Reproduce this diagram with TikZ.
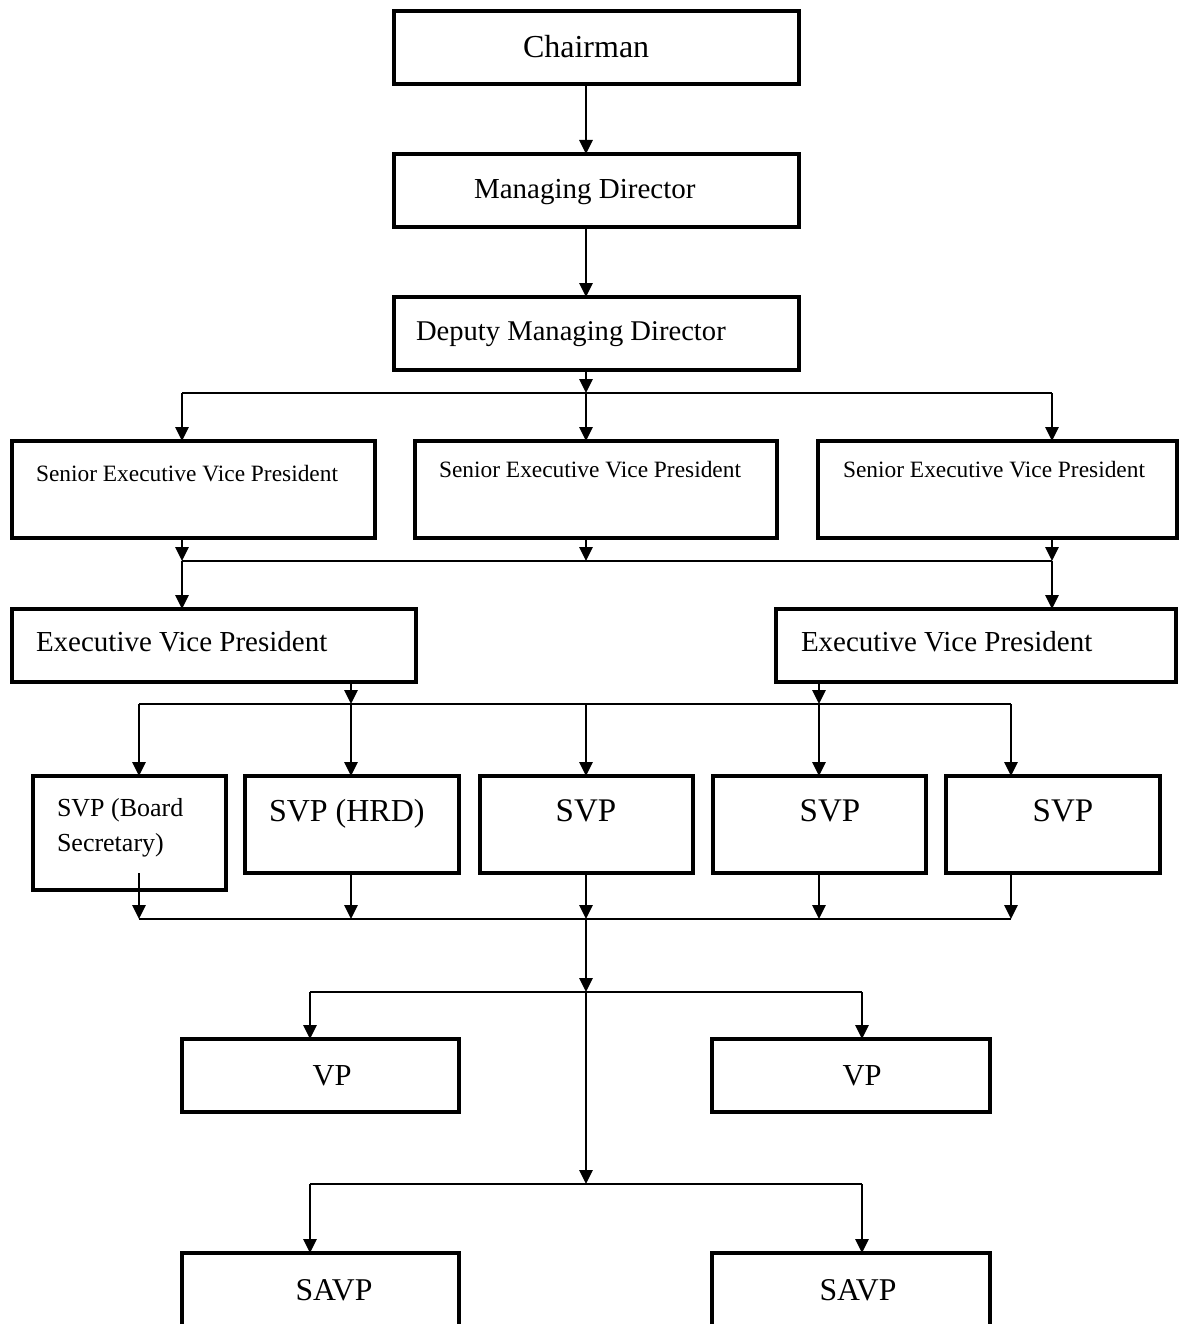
\documentclass[tikz,border=0pt]{standalone}
\usepackage{fontspec}
\setmainfont{Liberation Serif}
\usetikzlibrary{arrows.meta}
\tikzset{
  box/.style={draw=black, line width=4pt, inner sep=0pt, outer sep=0pt, fill=white},
  conn/.style={draw=black, line width=2.8pt},
  arr/.style={conn, -{Triangle[length=14pt, width=13pt]}},
  txt/.style={inner sep=0pt, outer sep=0pt, text=black},
}
\newcommand{\fs}[1]{\fontsize{#1}{#1}\selectfont}
\begin{document}
\begin{tikzpicture}[x={(1pt,0)}, y={(0,-1pt)}]
\useasboundingbox (0,0) rectangle (1179,1324);
% boxes
\node[box, minimum width=405pt, minimum height=73pt] (ch) at (596.5,47.5) {};
\node[box, minimum width=405pt, minimum height=73pt] (md) at (596.5,190.5) {};
\node[box, minimum width=405pt, minimum height=73pt] (dmd) at (596.5,333.5) {};
\node[box, minimum width=363pt, minimum height=97pt] (sevp1) at (193.5,489.5) {};
\node[box, minimum width=362pt, minimum height=97pt] (sevp2) at (596,489.5) {};
\node[box, minimum width=359pt, minimum height=97pt] (sevp3) at (997.5,489.5) {};
\node[box, minimum width=404pt, minimum height=73pt] (evp1) at (214,645.5) {};
\node[box, minimum width=400pt, minimum height=73pt] (evp2) at (976,645.5) {};
\node[box, minimum width=193pt, minimum height=114pt] (svp1) at (129.5,833) {};
\node[box, minimum width=214pt, minimum height=97pt] (svp2) at (352,824.5) {};
\node[box, minimum width=213pt, minimum height=97pt] (svp3) at (586.5,824.5) {};
\node[box, minimum width=213pt, minimum height=97pt] (svp4) at (819.5,824.5) {};
\node[box, minimum width=214pt, minimum height=97pt] (svp5) at (1053,824.5) {};
\node[box, minimum width=277pt, minimum height=73pt] (vp1) at (320.5,1075.5) {};
\node[box, minimum width=278pt, minimum height=73pt] (vp2) at (851,1075.5) {};
\node[box, minimum width=277pt, minimum height=90pt] (savp1) at (320.5,1298) {};
\node[box, minimum width=278pt, minimum height=90pt] (savp2) at (851,1298) {};
% texts
\node[txt, font=\fs{32}, anchor=base west] (tch) at (523,58) {Chairman};
\node[txt, font=\fs{29}, anchor=base west] (tmd) at (474,199) {Managing Director};
\node[txt, font=\fs{28.6}, anchor=base west] (tdmd) at (416,340) {Deputy Managing Director};
\node[txt, font=\fs{23.4}, anchor=base west] (tsevp1) at (36,481) {Senior Executive Vice President};
\node[txt, font=\fs{23.4}, anchor=base west] (tsevp2) at (439,477) {Senior Executive Vice President};
\node[txt, font=\fs{23.4}, anchor=base west] (tsevp3) at (843,477) {Senior Executive Vice President};
\node[txt, font=\fs{29}, anchor=base west] (tevp1) at (36,651) {Executive Vice President};
\node[txt, font=\fs{29}, anchor=base west] (tevp2) at (801,651) {Executive Vice President};
\node[txt, font=\fs{26}, anchor=base west] (tsvp1a) at (57,816) {SVP (Board};
\node[txt, font=\fs{26}, anchor=base west] (tsvp1b) at (57,851) {Secretary)};
\node[txt, font=\fs{32}, anchor=base west] (tsvp2) at (269,821) {SVP (HRD)};
\node[txt, font=\fs{33}, anchor=base] (tsvp3) at (586,821) {SVP};
\node[txt, font=\fs{33}, anchor=base] (tsvp4) at (830,821) {SVP};
\node[txt, font=\fs{33}, anchor=base] (tsvp5) at (1063,821) {SVP};
\node[txt, font=\fs{30.5}, anchor=base] (tvp1) at (332,1085) {VP};
\node[txt, font=\fs{30.5}, anchor=base] (tvp2) at (862,1085) {VP};
\node[txt, font=\fs{31.7}, anchor=base] (tsavp1) at (334,1300) {SAVP};
\node[txt, font=\fs{31.7}, anchor=base] (tsavp2) at (858,1300) {SAVP};
% junction coordinates
\coordinate (b1L) at (182,393); \coordinate (b1M) at (586,393); \coordinate (b1R) at (1052,393);
\coordinate (b2L) at (182,561); \coordinate (b2M) at (586,561); \coordinate (b2R) at (1052,561);
\coordinate (b3A) at (139,704); \coordinate (b3B) at (351,704); \coordinate (b3C) at (586,704);
\coordinate (b3D) at (819,704); \coordinate (b3E) at (1011,704);
\coordinate (b4A) at (139,919); \coordinate (b4B) at (351,919); \coordinate (b4C) at (586,919);
\coordinate (b4D) at (819,919); \coordinate (b4E) at (1011,919);
\coordinate (b5L) at (310,992); \coordinate (b5M) at (586,992); \coordinate (b5R) at (862,992);
\coordinate (b6L) at (310,1184); \coordinate (b6M) at (586,1184); \coordinate (b6R) at (862,1184);
% top chain
\draw[arr] (b1M |- ch.south) -- (b1M |- md.north);
\draw[arr] (b1M |- md.south) -- (b1M |- dmd.north);
\draw[arr] (b1M |- dmd.south) -- (b1M);
% bus 1
\draw[conn] (b1L) -- (b1R);
\draw[arr] (b1L) -- (b1L |- sevp1.north);
\draw[arr] (b1M) -- (b1M |- sevp2.north);
\draw[arr] (b1R) -- (b1R |- sevp3.north);
% bus 2
\draw[arr] (b2L |- sevp1.south) -- (b2L);
\draw[arr] (b2M |- sevp2.south) -- (b2M);
\draw[arr] (b2R |- sevp3.south) -- (b2R);
\draw[conn] (b2L) -- (b2R);
\draw[arr] (b2L) -- (b2L |- evp1.north);
\draw[arr] (b2R) -- (b2R |- evp2.north);
% bus 3
\draw[arr] (b3B |- evp1.south) -- (b3B);
\draw[arr] (b3D |- evp2.south) -- (b3D);
\draw[conn] (b3A) -- (b3E);
\draw[arr] (b3A) -- (b3A |- svp1.north);
\draw[arr] (b3B) -- (b3B |- svp2.north);
\draw[arr] (b3C) -- (b3C |- svp3.north);
\draw[arr] (b3D) -- (b3D |- svp4.north);
\draw[arr] (b3E) -- (b3E |- svp5.north);
% bus 4
\draw[arr] (b4A |- svp2.south) -- (b4A);
\draw[arr] (b4B |- svp2.south) -- (b4B);
\draw[arr] (b4C |- svp3.south) -- (b4C);
\draw[arr] (b4D |- svp4.south) -- (b4D);
\draw[arr] (b4E |- svp5.south) -- (b4E);
\draw[conn] (b4A) -- (b4E);
% spine to VP and SAVP
\draw[arr] (b4C) -- (b5M);
\draw[conn] (b5L) -- (b5R);
\draw[arr] (b5L) -- (b5L |- vp1.north);
\draw[arr] (b5R) -- (b5R |- vp2.north);
\draw[arr] (b5M) -- (b6M);
\draw[conn] (b6L) -- (b6R);
\draw[arr] (b6L) -- (b6L |- savp1.north);
\draw[arr] (b6R) -- (b6R |- savp2.north);
\end{tikzpicture}
\end{document}
